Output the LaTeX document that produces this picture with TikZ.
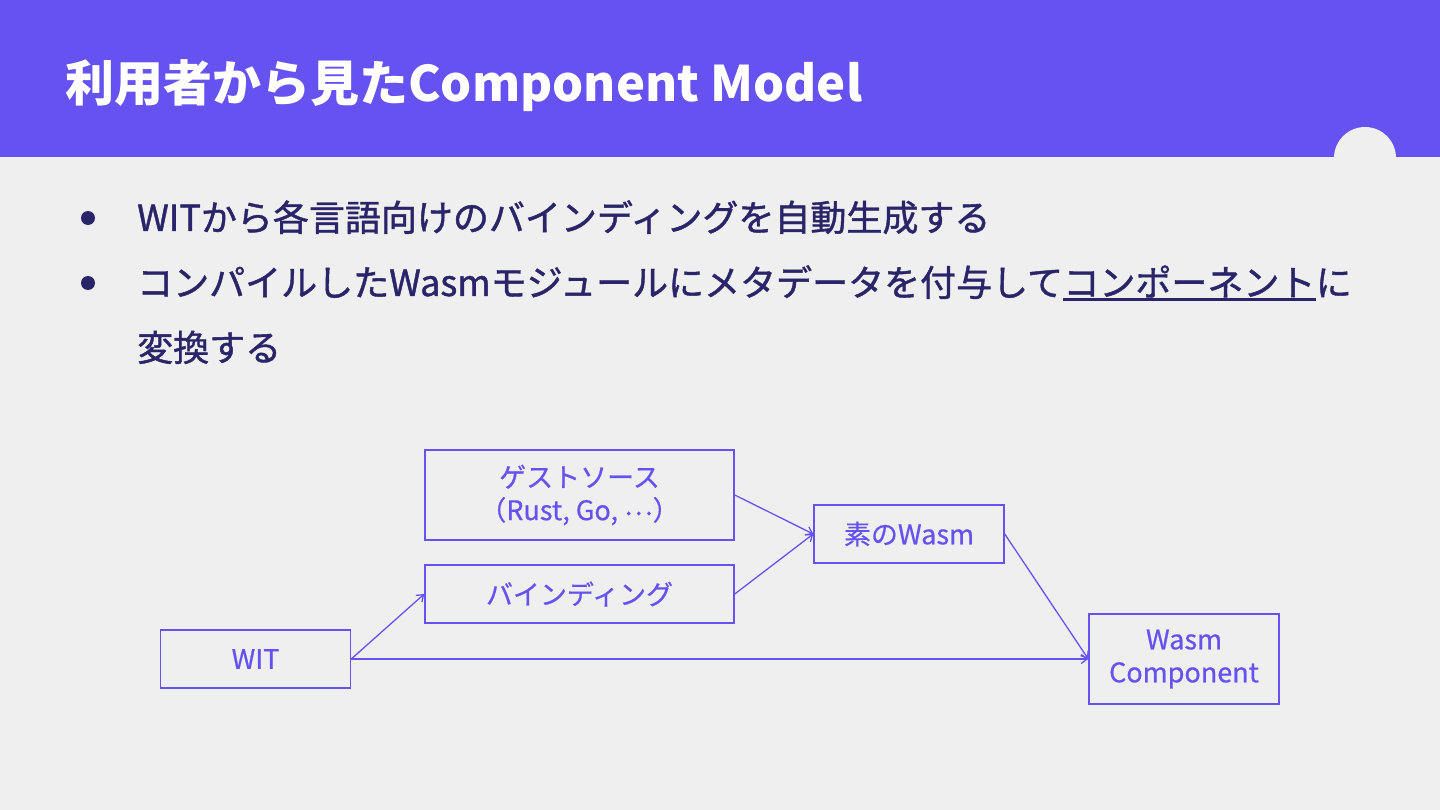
\documentclass[tikz,border=0pt]{standalone}
\usepackage{fontspec}
\setmainfont{Noto Sans CJK JP}
\newfontfamily\medfont[FakeBold = 1.2]{Noto Sans CJK JP}
\newfontfamily\boxfont[FakeBold = 0.6]{Noto Sans CJK JP}
\usetikzlibrary{arrows.meta}
\definecolor{headerpurple}{HTML}{6652F0}
\definecolor{slidegray}{HTML}{EFEFEF}
\definecolor{bodynavy}{HTML}{2A2468}
\begin{document}
\begin{tikzpicture}[x = 1pt, y = -1pt,
	box/.style = {draw = headerpurple, line width = 1.5pt, text = headerpurple, font = \boxfont\fontsize{27}{33}\selectfont, align = center, inner sep = 0pt, minimum width = 190pt, minimum height = 58pt},
	flow/.style = {draw = headerpurple, line width = 1.3pt, -{Straight Barb[length = 6pt, width = 9pt]}},
	bullettext/.style = {anchor = base west, text = bodynavy, font = \medfont\fontsize{36}{40}\selectfont, inner sep = 0pt}]
	\useasboundingbox (0, 0) rectangle (1440, 810);
	\fill[slidegray] (0, 0) rectangle (1440, 810);
	\fill[headerpurple] (0, 0) rectangle (1440, 157);
	\fill[slidegray] (1365, 158) circle (31);
	\node[anchor = base west, text = white, inner sep = 0pt, font = \fontsize{49}{56}\bfseries] (title) at (65, 102) {利用者から見たComponent Model};
	% bullets
	\fill[bodynavy] (88, 218) circle (7);
	\fill[bodynavy] (88, 283) circle (7);
	\node[bullettext] (line1) at (137, 231) {WITから各言語向けのバインディングを自動生成する};
	\node[bullettext] (line2) at (137, 296) {コンパイルしたWasmモジュールにメタデータを付与して};
	\node[bullettext] (compword) at (line2.base east) {コンポーネント};
	\node[bullettext] (line2end) at (compword.base east) {に};
	\draw[bodynavy, line width = 3pt] ([yshift = -4pt]compword.base west) -- ([yshift = -4pt]compword.base east);
	\node[bullettext] (line3) at (137, 361) {変換する};
	% diagram
	\node[box, minimum width = 309pt, minimum height = 90pt] (guest) at (579.5, 495) {ゲストソース\\（Rust, Go, \raisebox{0.35ex}{…}）};
	\node[box, minimum width = 309pt] (bind) at (579.5, 594) {バインディング};
	\node[box] (wit) at (255.5, 659) {WIT};
	\node[box] (rawwasm) at (909, 534) {素のWasm};
	\node[box, minimum height = 90pt] (comp) at (1184, 659) {Wasm\\Component};
	\draw[flow] (wit.east) -- (bind.west);
	\draw[flow] (wit.east) -- (comp.west);
	\draw[flow] (guest.east) -- (rawwasm.west);
	\draw[flow] (bind.east) -- (rawwasm.west);
	\draw[flow] (rawwasm.east) -- (comp.west);
\end{tikzpicture}
\end{document}
